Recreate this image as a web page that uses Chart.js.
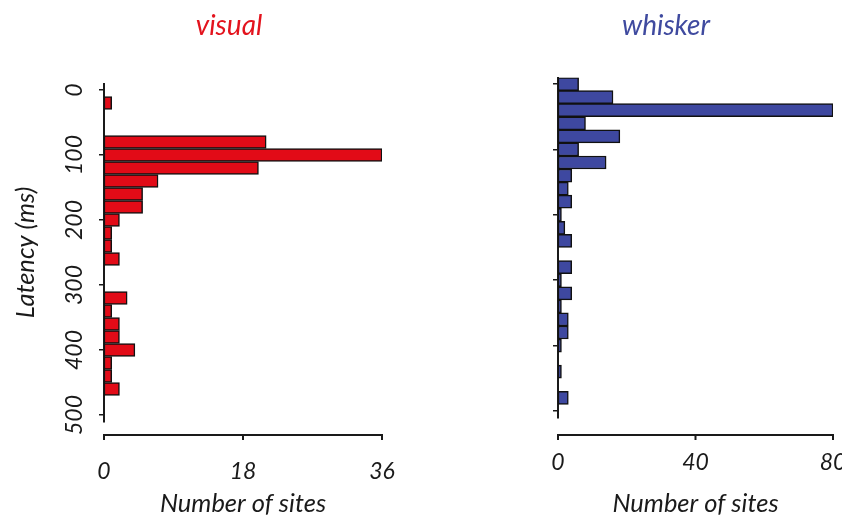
<!DOCTYPE html>
<html>
<head>
<meta charset="utf-8">
<title>Latency histograms</title>
<script src="https://cdn.jsdelivr.net/npm/chart.js@4.4.1/dist/chart.umd.min.js"></script>
<style>
  html, body { margin: 0; padding: 0; background: #fff; overflow: hidden; }
  .box { position: absolute; top: 0; height: 517px; }
  #leftBox { left: 0; width: 458px; }
  #rightBox { left: 482px; width: 368px; }
</style>
</head>
<body>
<div class="box" id="leftBox"><canvas id="visualChart"></canvas></div>
<div class="box" id="rightBox"><canvas id="whiskerChart"></canvas></div>
<script>
// latency bins (ms), 20 ms wide, centred on the value
const latencyBins = [0, 20, 40, 60, 80, 100, 120, 140, 160, 180, 200, 220, 240,
  260, 280, 300, 320, 340, 360, 380, 400, 420, 440, 460, 480, 500];
const visualSites = [0, 1, 0, 0, 21, 36, 20, 7, 5, 5, 2, 1, 1,
  2, 0, 0, 3, 1, 2, 2, 4, 1, 1, 2, 0, 0];
const whiskerSites = [6, 16, 80, 8, 18, 6, 14, 4, 3, 4, 1, 2, 4,
  0, 4, 1, 4, 1, 3, 3, 1, 0, 1, 0, 3, 0];

const latencyTicks = [0, 100, 200, 300, 400, 500];
const visualSiteTicks = [0, 18, 36];
const whiskerSiteTicks = [0, 40, 80];

Chart.defaults.font.family = "Lato";
Chart.defaults.color = "#1a1a1a";

const tickFont = { family: "Lato", size: 23, style: "italic", lineHeight: 1 };
const titleFont = { family: "Lato", size: 25.5, style: "italic", lineHeight: 1 };

// x axis drawn a little below the plot, R style
const offsetXAxis = {
  id: "offsetXAxis",
  afterDraw(chart, args, opts) {
    const { ctx, chartArea } = chart;
    const x = chart.scales.x;
    const y = chartArea.bottom + opts.gap;
    ctx.save();
    ctx.strokeStyle = "#1a1a1a";
    ctx.lineWidth = 2;
    ctx.beginPath();
    ctx.moveTo(x.getPixelForValue(x.min), y);
    ctx.lineTo(x.getPixelForValue(x.max), y);
    x.ticks.forEach(t => {
      const px = x.getPixelForValue(t.value);
      ctx.moveTo(px, y - 1);
      ctx.lineTo(px, y + 5);
    });
    ctx.stroke();
    ctx.restore();
  }
};

function makeChart(id, cfg) {
  new Chart(document.getElementById(id), {
    type: "bar",
    data: {
      datasets: [{
        data: latencyBins.map((b, i) => ({ x: cfg.values[i], y: b })),
        backgroundColor: cfg.fill,
        borderColor: "#111",
        borderWidth: 1.5,
        borderSkipped: false,
        barPercentage: 1,
        categoryPercentage: 1
      }]
    },
    options: {
      indexAxis: "y",
      responsive: true,
      maintainAspectRatio: false,
      animation: false,
      layout: { padding: 0 },
      plugins: {
        legend: { display: false },
        tooltip: { enabled: false },
        title: {
          display: true,
          text: cfg.title,
          color: cfg.titleColor,
          font: { family: "Lato", size: 28, style: "italic", weight: "normal", lineHeight: 1 },
          padding: { top: 12, bottom: cfg.titleGap }
        },
        offsetXAxis: { gap: cfg.axisGap }
      },
      scales: {
        x: {
          type: "linear",
          min: 0,
          max: cfg.xTicks[cfg.xTicks.length - 1],
          afterBuildTicks: s => { s.ticks = cfg.xTicks.map(v => ({ value: v })); },
          afterFit: s => { s.height = 517 - cfg.plotBottom; },
          // hidden tick marks, their length only pushes the labels down
          grid: { display: false, drawTicks: true, tickLength: cfg.xTickPad },
          border: { display: false },
          ticks: { font: tickFont, color: "#1a1a1a", padding: 0, maxRotation: 0 },
          title: {
            display: true,
            text: "Number of sites",
            font: titleFont,
            color: "#1a1a1a",
            padding: { top: 0, bottom: 0 }
          }
        },
        y: {
          type: "linear",
          reverse: true,
          offset: false,
          min: -10,
          max: 510,
          afterBuildTicks: s => { s.ticks = latencyTicks.map(v => ({ value: v })); },
          afterFit: s => { s.width = cfg.plotLeft; },
          grid: { offset: false, drawOnChartArea: false, drawTicks: true, tickLength: 5, color: "#1a1a1a", lineWidth: 1.5 },
          border: { display: true, color: "#1a1a1a", width: 2 },
          ticks: {
            display: cfg.yLabels,
            font: tickFont,
            color: "#1a1a1a",
            minRotation: 90,
            maxRotation: 90,
            crossAlign: "center",
            padding: 4
          },
          title: {
            display: cfg.yLabels,
            text: "Latency (ms)",
            font: titleFont,
            color: "#1a1a1a",
            padding: { top: 13, bottom: 0 }
          }
        },
        // empty right-hand axis, only keeps the space right of the plot
        spacer: {
          type: "linear",
          position: "right",
          grid: { display: false },
          border: { display: false },
          ticks: { display: false },
          afterFit: s => { s.width = cfg.padRight; }
        }
      }
    },
    plugins: [offsetXAxis]
  });
}

makeChart("visualChart", {
  values: visualSites,
  fill: "#e20b17",
  title: "visual",
  titleColor: "#e3131d",
  titleGap: 43.5,
  xTicks: visualSiteTicks,
  plotLeft: 104,
  plotBottom: 421.5,
  padRight: 76,
  axisGap: 13.5,
  xTickPad: 39,
  yLabels: true
});

makeChart("whiskerChart", {
  values: whiskerSites,
  fill: "#3e48a0",
  title: "whisker",
  titleColor: "#3f4a9f",
  titleGap: 37.5,
  xTicks: whiskerSiteTicks,
  plotLeft: 76,
  plotBottom: 417.5,
  padRight: 17,
  axisGap: 17.5,
  xTickPad: 34,
  yLabels: false
});
</script>
</body>
</html>
